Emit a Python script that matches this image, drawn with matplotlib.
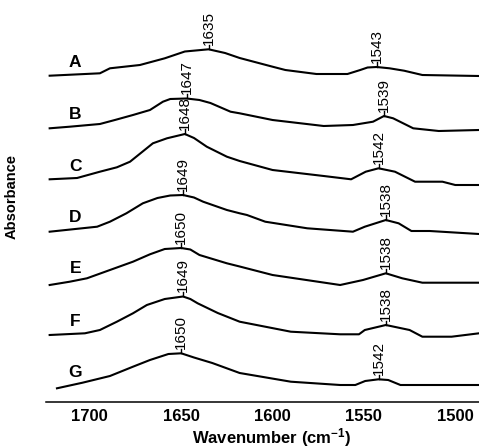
import numpy as np
import matplotlib.pyplot as plt

plt.rcParams['font.family'] = ['Liberation Sans', 'DejaVu Sans']
plt.rcParams['mathtext.fontset'] = 'custom'
plt.rcParams['mathtext.rm'] = 'Liberation Sans:bold'
plt.rcParams['mathtext.bf'] = 'Liberation Sans:bold'
plt.rcParams['mathtext.default'] = 'bf'

# amide I / amide II region, one spectrum per sample (absorbance, a.u.)
samples = ['A', 'B', 'C', 'D', 'E', 'F', 'G']

wn_A = [1722, 1694.5, 1689, 1672.6, 1659, 1648, 1635, 1626, 1618, 1600, 1593, 1576,
        1559, 1552, 1548, 1543, 1536, 1528, 1518, 1487]
abs_A = [0.003, 0.027, 0.077, 0.110, 0.177, 0.245, 0.267, 0.230, 0.180, 0.093, 0.060, 0.020,
         0.020, 0.060, 0.085, 0.090, 0.077, 0.053, 0.010, 0.000]

wn_B = [1722, 1711, 1694.5, 1686.3, 1676.4, 1667.1, 1660, 1656, 1647, 1640, 1634, 1623,
        1618, 1600, 1572, 1556, 1545, 1539, 1534, 1523, 1509, 1487]
abs_B = [0.027, 0.043, 0.070, 0.110, 0.160, 0.210, 0.293, 0.320, 0.325, 0.310, 0.280, 0.193,
         0.177, 0.110, 0.050, 0.060, 0.093, 0.150, 0.127, 0.027, 0.000, 0.010]

wn_C = [1722, 1707, 1694.5, 1685.2, 1678, 1665.5, 1657.8, 1648, 1643, 1636, 1625, 1618,
        1600, 1572, 1557, 1549, 1542, 1533, 1522, 1507, 1500, 1487]
abs_C = [0.057, 0.070, 0.133, 0.177, 0.233, 0.417, 0.467, 0.510, 0.470, 0.383, 0.283, 0.240,
         0.150, 0.090, 0.057, 0.133, 0.167, 0.133, 0.033, 0.033, 0.000, 0.000]

wn_D = [1722, 1696, 1689, 1680, 1671, 1663, 1656, 1649, 1643, 1638, 1625, 1618, 1614,
        1604, 1581, 1556, 1549.5, 1538, 1531, 1524, 1514, 1487]
abs_D = [0.023, 0.073, 0.123, 0.207, 0.307, 0.360, 0.385, 0.390, 0.365, 0.323, 0.240, 0.207, 0.190,
         0.123, 0.057, 0.023, 0.073, 0.140, 0.107, 0.030, 0.030, 0.000]

wn_E = [1722, 1711, 1701.6, 1689, 1676.4, 1667.1, 1659, 1650, 1645, 1640, 1625, 1618,
        1600, 1563, 1550.5, 1538, 1529, 1518, 1487]
abs_E = [0.000, 0.033, 0.067, 0.150, 0.233, 0.307, 0.360, 0.370, 0.355, 0.300, 0.217, 0.185,
         0.100, 0.000, 0.050, 0.117, 0.067, 0.023, 0.023]

wn_F = [1722, 1702.7, 1694.5, 1685.2, 1676.4, 1668.8, 1659, 1649, 1645, 1641, 1630, 1618,
        1590, 1563, 1552.7, 1549.5, 1538, 1525, 1518, 1502, 1487]
abs_F = [0.017, 0.034, 0.067, 0.150, 0.234, 0.317, 0.377, 0.402, 0.377, 0.334, 0.237, 0.150,
         0.050, 0.024, 0.024, 0.067, 0.117, 0.067, 0.000, 0.000, 0.034]

wn_G = [1718, 1704, 1689, 1676.4, 1667.1, 1657, 1650, 1643, 1633, 1618, 1590, 1563,
        1554.7, 1549.3, 1542, 1536.7, 1530, 1487]
abs_G = [0.000, 0.056, 0.123, 0.216, 0.283, 0.343, 0.350, 0.308, 0.253, 0.153, 0.066, 0.033,
         0.033, 0.073, 0.090, 0.083, 0.033, 0.033]

# band maxima (cm-1): amide I and amide II
amide1 = [1635, 1647, 1648, 1649, 1650, 1649, 1650]
amide2 = [1543, 1539, 1542, 1538, 1538, 1538, 1542]

xticks = [1700, 1650, 1600, 1550, 1500]

wns = [wn_A, wn_B, wn_C, wn_D, wn_E, wn_F, wn_G]
spectra = [abs_A, abs_B, abs_C, abs_D, abs_E, abs_F, abs_G]
offsets = [3.26, 2.71, 2.17, 1.68, 1.17, 0.653, 0.137]

fig = plt.figure(figsize=(4.79, 4.48), dpi=100)
ax = fig.add_axes([46 / 479, 46 / 448, 433 / 479, 402 / 448])

for name, wn, a, off, p1, p2 in zip(samples, wns, spectra, offsets, amide1, amide2):
    wn = np.array(wn)
    y = np.array(a) + off
    ax.plot(wn, y, color='black', lw=1.5, solid_joinstyle='round')
    # sample letter just above the left end of the trace
    ax.text(1708, np.interp(1708, wn[::-1], y[::-1]) + 0.12, name,
            fontsize=12.5, fontweight='bold', ha='center', va='center')
    # peak markers with rotated wavenumber labels
    for p in (p1, p2):
        yp = np.interp(p, wn[::-1], y[::-1])
        ax.plot([p, p], [yp, yp + 0.045], color='black', lw=1.0)
        ax.text(p, yp + 0.04, str(p), rotation=90, fontsize=11,
                ha='center', va='bottom')

ax.set_xlim(1724, 1487)
ax.set_ylim(0, 4.02)
ax.set_xticks(xticks)
ax.set_xticklabels([str(t) for t in xticks], fontsize=12, fontweight='bold')
ax.tick_params(axis='x', length=0, pad=5)
ax.set_yticks([])
for s in ['top', 'right', 'left']:
    ax.spines[s].set_visible(False)
ax.spines['bottom'].set_linewidth(1.1)

ax.set_xlabel('Wavenumber (cm$^{-1}$)', fontsize=12, fontweight='bold')
ax.xaxis.set_label_coords((272 - 46) / 433, -0.060)
ax.set_ylabel('Absorbance', fontsize=10.5, fontweight='bold')
ax.yaxis.set_label_coords((19 - 46) / 433, 0.512)

fig.savefig('out.png', dpi=100)
